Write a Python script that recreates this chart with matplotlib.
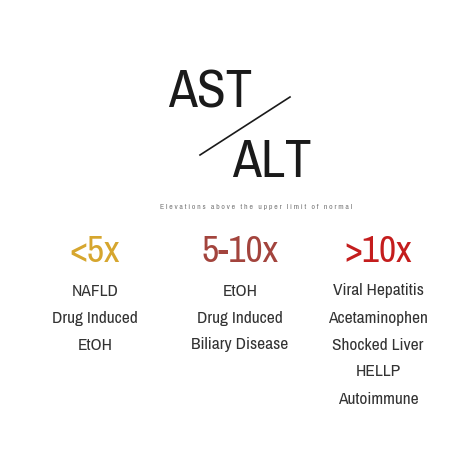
import matplotlib
matplotlib.use("Agg")
import matplotlib.pyplot as plt
from matplotlib import font_manager

names = sorted({f.name for f in font_manager.fontManager.ttflist})
cands = [n for n in names if "Narrow" in n or "Condensed" in n]
FONT = cands[0] if cands else "DejaVu Sans"
STRETCH = "condensed"

headers = ["<5x", "5-10x", ">10x"]
header_colors = ["#d6a62e", "#a3443d", "#c41d1d"]
causes = [
    ["NAFLD", "Drug Induced", "EtOH"],
    ["EtOH", "Drug Induced", "Biliary Disease"],
    ["Viral Hepatitis", "Acetaminophen", "Shocked Liver", "HELLP", "Autoimmune"],
]
col_x = [95, 240, 378]
subtitle = "Elevations above the upper limit of normal"

fig = plt.figure(figsize=(4.74, 4.74), dpi=100)
ax = fig.add_axes([0, 0, 1, 1])
ax.set_xlim(0, 474)
ax.set_ylim(474, 0)
ax.axis("off")

kw = dict(family=FONT, fontstretch=STRETCH)
ax.text(210, 92, "AST", ha="center", va="center", fontsize=38, color="#1a1a1a",
        fontweight="light", **kw)
ax.text(272, 162, "ALT", ha="center", va="center", fontsize=38, color="#1a1a1a",
        fontweight="light", **kw)
ax.plot([200, 290], [155, 97], color="#1a1a1a", lw=1.2)
ax.text(256, 207, " ".join(subtitle), ha="center", va="center",
        fontsize=5.6, color="#777777", **kw)

for x, h, c, items in zip(col_x, headers, header_colors, causes):
    ax.text(x, 252, h, ha="center", va="center", fontsize=27, color=c, **kw)
    for i, it in enumerate(items):
        ax.text(x, 291 + 27 * i, it, ha="center", va="center", fontsize=12.5,
                color="#333333", **kw)

fig.savefig("out.png", dpi=100, facecolor="white")
